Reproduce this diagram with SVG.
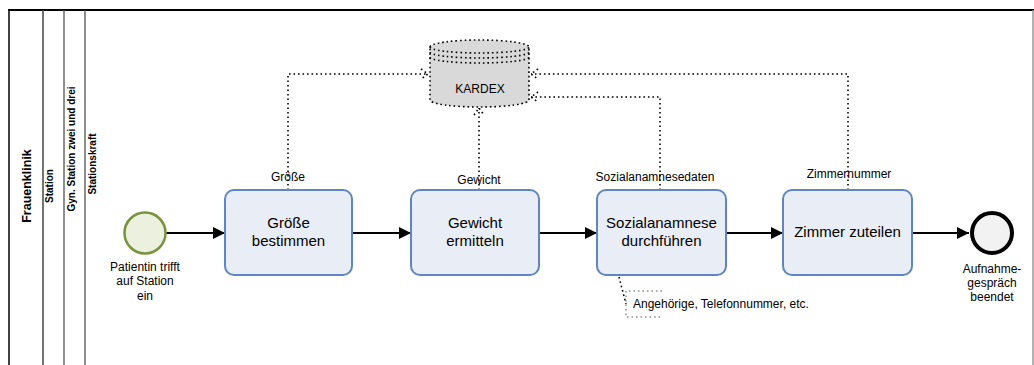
<svg xmlns="http://www.w3.org/2000/svg" width="1034" height="365" viewBox="0 0 1034 365">
<style>
text{font-family:"Liberation Sans",Arial,sans-serif;fill:#000}
.hdr{font-weight:bold;font-size:10px}
.lbl{font-size:12px;text-anchor:middle}
.tl{font-size:15px;text-anchor:middle}
.task{fill:#e9eef6;stroke:#5f86c0;stroke-width:2}
.dot{fill:none;stroke:#000;stroke-width:1.6;stroke-dasharray:1.6 2.9}
.seq{fill:none;stroke:#000;stroke-width:2}
</style>
<defs>
<marker id="ah" viewBox="0 0 10 10" refX="10" refY="5" markerWidth="12" markerHeight="12" markerUnits="userSpaceOnUse" orient="auto">
<path d="M0,0 L10,5 L0,10 Z" fill="#000"/>
</marker>
</defs>
<g id="pool">
<rect x="0" y="0" width="1034" height="365" fill="#fff"/>
<line x1="8" y1="10" x2="1034" y2="10" stroke="#000" stroke-width="2"/>
<line x1="1033" y1="10" x2="1033" y2="365" stroke="#999" stroke-width="1.5"/>
<line x1="9" y1="10" x2="9" y2="365" stroke="#111" stroke-width="1.6"/>
<line x1="43" y1="10" x2="43" y2="365" stroke="#444" stroke-width="1.5"/>
<line x1="64" y1="10" x2="64" y2="365" stroke="#444" stroke-width="1.2"/>
<line x1="85" y1="10" x2="85" y2="365" stroke="#444" stroke-width="1.2"/>
<text class="hdr" style="font-size:12.5px" text-anchor="middle" transform="translate(31,186) rotate(-90)">Frauenklinik</text>
<text class="hdr" text-anchor="middle" transform="translate(53,186) rotate(-90)">Station</text>
<text class="hdr" text-anchor="middle" transform="translate(75,149) rotate(-90)">Gyn. Station zwei und drei</text>
<text class="hdr" text-anchor="middle" transform="translate(96,164) rotate(-90)">Stationskraft</text>
</g>
<g id="connectors">
<line class="seq" x1="166" y1="233" x2="225" y2="233" marker-end="url(#ah)"/>
<line class="seq" x1="352" y1="233" x2="411" y2="233" marker-end="url(#ah)"/>
<line class="seq" x1="539" y1="233" x2="597" y2="233" marker-end="url(#ah)"/>
<line class="seq" x1="726" y1="233" x2="783" y2="233" marker-end="url(#ah)"/>
<line class="seq" x1="912" y1="233" x2="969" y2="233" marker-end="url(#ah)"/>
<polyline class="dot" points="288,190 288,74 428,74"/>
<polyline class="dot" points="421,69 428,74 421,79"/>
<polyline class="dot" points="479,190 479,108"/>
<polyline class="dot" points="474,115 479,108 484,115"/>
<polyline class="dot" points="660,190 660,97 531,97"/>
<polyline class="dot" points="538,92 531,97 538,102"/>
<polyline class="dot" points="848,190 848,74 531,74"/>
<polyline class="dot" points="538,69 531,74 538,79"/>
<polyline class="dot" points="619,277 626,304"/>
</g>
<g id="kardex">
<path d="M430,47 A49.5,7 0 0 1 529,47 V100 A49.5,7 0 0 1 430,100 Z" class="dot" style="fill:#d9d9d9"/>
<path class="dot" d="M430,47 A49.5,6 0 0 0 529,47 M430,52 A49.5,6 0 0 0 529,52 M430,57 A49.5,6 0 0 0 529,57"/>
<text class="lbl" x="480" y="93">KARDEX</text>
</g>
<g id="start">
<circle cx="145" cy="233" r="20.5" fill="#ebf1de" stroke="#77933c" stroke-width="2.5"/>
<text class="lbl" x="145" y="271">Patientin trifft</text>
<text class="lbl" x="145" y="285">auf Station</text>
<text class="lbl" x="145" y="300">ein</text>
</g>
<g id="task1">
<rect class="task" x="225" y="190" width="127" height="85" rx="9"/>
<text class="tl" x="288.5" y="228">Größe</text>
<text class="tl" x="288.5" y="246">bestimmen</text>
<text class="lbl" x="288" y="181">Größe</text>
</g>
<g id="task2">
<rect class="task" x="411" y="190" width="128" height="85" rx="9"/>
<text class="tl" x="475" y="228">Gewicht</text>
<text class="tl" x="475" y="246">ermitteln</text>
<text class="lbl" x="479" y="184">Gewicht</text>
</g>
<g id="task3">
<rect class="task" x="597" y="190" width="129" height="85" rx="9"/>
<text class="tl" x="661.5" y="228">Sozialanamnese</text>
<text class="tl" x="661.5" y="246">durchführen</text>
<text class="lbl" x="655" y="181">Sozialanamnesedaten</text>
</g>
<g id="task4">
<rect class="task" x="783" y="190" width="129" height="85" rx="9"/>
<text class="tl" x="847.5" y="237">Zimmer zuteilen</text>
<text class="lbl" x="849" y="178">Zimmernummer</text>
</g>
<g id="end">
<circle cx="992" cy="233" r="20" fill="#f2f2f2" stroke="#000" stroke-width="4"/>
<text class="lbl" x="992" y="273">Aufnahme-</text>
<text class="lbl" x="992" y="287">gespräch</text>
<text class="lbl" x="992" y="301">beendet</text>
</g>
<g id="annotation">
<polyline class="dot" points="662,291 626,291 626,317 662,317" style="stroke:#555;stroke-width:1"/>
<text x="633" y="308" style="font-size:12px">Angehörige, Telefonnummer, etc.</text>
</g>
</svg>
